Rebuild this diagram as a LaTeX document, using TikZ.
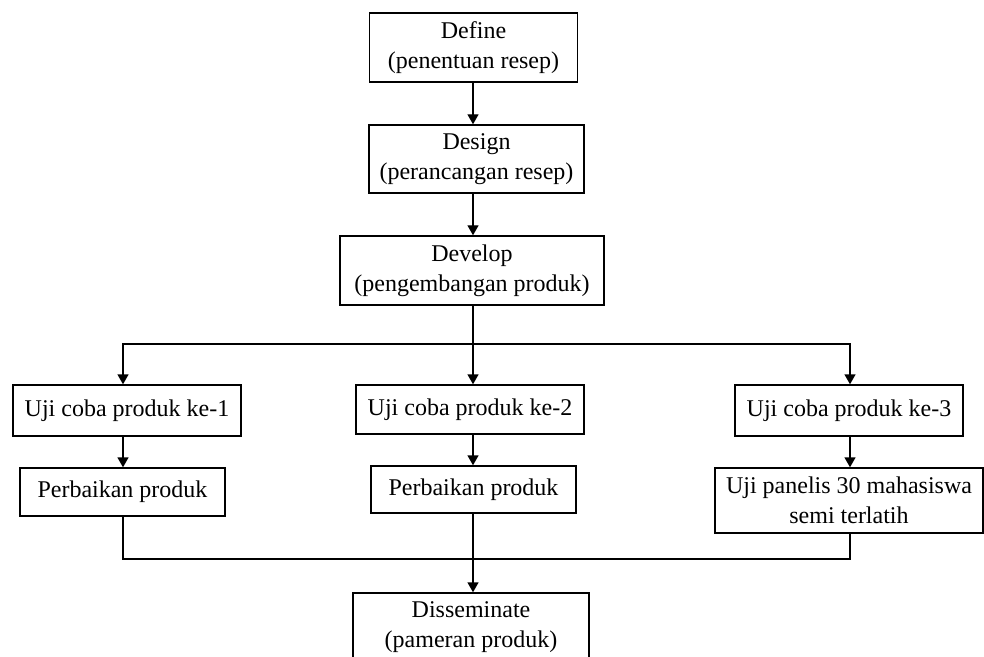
\documentclass[tikz,border=0pt]{standalone}
\usepackage{fontspec}
\setmainfont{Liberation Serif}
\usetikzlibrary{arrows.meta}
\tikzset{
	box/.style={draw, line width=0.7pt, inner sep=0pt, align=center, font=\fontsize{12}{15}\selectfont},
	arr/.style={line width=0.7pt, -{Triangle[length=5pt,width=5.5pt]}},
	ln/.style={line width=0.7pt}
}
\begin{document}
\begin{tikzpicture}[x=0.5pt,y=-0.5pt]
		\useasboundingbox (0,0) rectangle (984,657);
		\clip (0,0) rectangle (984,657);
		%main stages
		\node[box, minimum width=104pt, minimum height=34.5pt] (define) at (473.5,47.5) {Define\\(penentuan resep)};
		\node[box, minimum width=107.5pt, minimum height=34pt] (design) at (476.5,159) {Design\\(perancangan resep)};
		\node[box, minimum width=132pt, minimum height=34.5pt] (develop) at (472,270.5) {Develop\\(pengembangan produk)};
		%trials
		\node[box, minimum width=114pt, minimum height=25.5pt] (uji1) at (127,410.5) {Uji coba produk ke-1};
		\node[box, minimum width=114pt, minimum height=24.5pt] (uji2) at (470,409.5) {Uji coba produk ke-2};
		\node[box, minimum width=114pt, minimum height=25.5pt] (uji3) at (849,410.5) {Uji coba produk ke-3};
		%revisions
		\node[box, minimum width=102.5pt, minimum height=24pt] (perb1) at (122.5,492) {Perbaikan produk};
		\node[box, minimum width=102.5pt, minimum height=23.5pt] (perb2) at (473.5,489.5) {Perbaikan produk};
		\node[box, minimum width=134pt, minimum height=32.5pt] (panelis) at (849,500.5) {Uji panelis 30 mahasiswa\\semi terlatih};
		%final stage
		\node[box, minimum width=118pt, minimum height=34pt] (dissem) at (471,627) {Disseminate\\(pameran produk)};
		\coordinate (split) at (473,344);
		\coordinate (merge) at (473,559);
		%connectors
		\draw[arr] (473,0 |- define.south) -- (473,0 |- design.north);
		\draw[arr] (473,0 |- design.south) -- (473,0 |- develop.north);
		\draw[ln] (473,0 |- develop.south) -- (split);
		\draw[arr] (split) -| (123,0 |- uji1.north);
		\draw[arr] (split) -- (473,0 |- uji2.north);
		\draw[arr] (split) -| (850,0 |- uji3.north);
		\draw[arr] (123,0 |- uji1.south) -- (123,0 |- perb1.north);
		\draw[arr] (473,0 |- uji2.south) -- (473,0 |- perb2.north);
		\draw[arr] (850,0 |- uji3.south) -- (850,0 |- panelis.north);
		\draw[ln] (123,0 |- perb1.south) |- (merge);
		\draw[ln] (850,0 |- panelis.south) |- (merge);
		\draw[arr] (473,0 |- perb2.south) -- (473,0 |- dissem.north);
	\end{tikzpicture}
\end{document}
